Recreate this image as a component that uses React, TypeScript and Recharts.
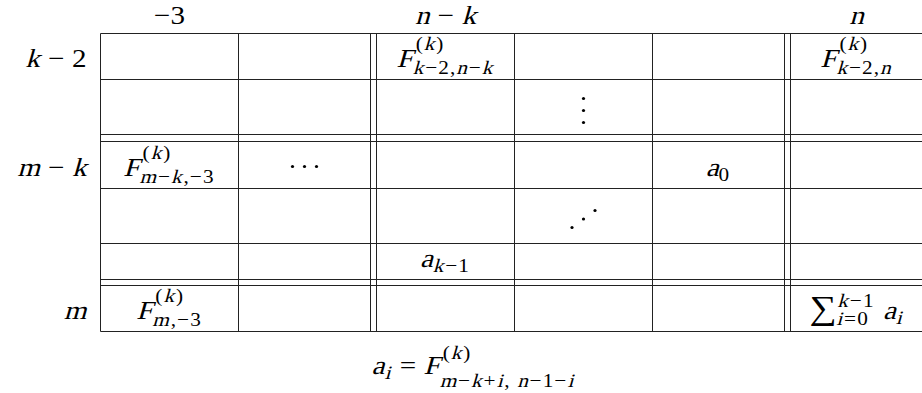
import React from 'react';
import { ScatterChart, Scatter, XAxis, YAxis, ReferenceLine } from 'recharts';

// Table grid: rule positions (in page pixels) and cell geometry
const verticalRules = [100, 238, 370, 376, 514, 652, 784, 790];
const horizontalRules = [33, 79, 134, 141, 188, 243, 279, 285, 331];
const tableRight = 921.5;

const colLeft = [100, 238, 376, 514, 652, 790];
const colRight = [238, 370, 514, 652, 784, 922];
const rowBottom = [79, 134, 188, 243, 279, 331];

// Header labels
const colHeads = ['−3', '', 'n − k', '', '', 'n'];
const rowHeads = ['k − 2', '', 'm − k', '', '', 'm'];

type Atom = { b: string; sup?: string; sub?: string; big?: boolean };

const cellEntries: { row: number; col: number; atoms: Atom[] }[] = [
  { row: 0, col: 2, atoms: [{ b: 'F', sup: '(k)', sub: 'k−2,n−k' }] },
  { row: 0, col: 5, atoms: [{ b: 'F', sup: '(k)', sub: 'k−2,n' }] },
  { row: 2, col: 0, atoms: [{ b: 'F', sup: '(k)', sub: 'm−k,−3' }] },
  { row: 2, col: 4, atoms: [{ b: 'a', sub: '0' }] },
  { row: 4, col: 2, atoms: [{ b: 'a', sub: 'k−1' }] },
  { row: 5, col: 0, atoms: [{ b: 'F', sup: '(k)', sub: 'm,−3' }] },
  {
    row: 5,
    col: 5,
    atoms: [{ b: '∑', sup: 'k−1', sub: 'i=0', big: true }, { b: ' a', sub: 'i' }],
  },
];

const dotEntries: { row: number; col: number; kind: 'v' | 'h' | 'd' }[] = [
  { row: 1, col: 3, kind: 'v' },
  { row: 2, col: 1, kind: 'h' },
  { row: 3, col: 3, kind: 'd' },
];

const footnote: Atom[] = [
  { b: 'a', sub: 'i' },
  { b: ' = ' },
  { b: 'F', sup: '(k)', sub: 'm−k+i, n−1−i' },
];
const footnoteAt = { x: 473, y: 373 };

// Only the upright Liberation Serif face is available, so italics are slanted by hand
const FONT = "'Liberation Serif'";
const BASE = 26;
const SCRIPT = 19;
const BIG = 34;
const SX = 1.12;
const SKEW = -14;
const INK = '#000';
const RULE = '#222';

const ctx = document.createElement('canvas').getContext('2d');

function tokens(s: string) {
  return s.match(/[A-Za-z]+|[^A-Za-z]+/g) ?? [];
}
const isItalic = (t: string) => /[A-Za-z]/.test(t);

function tokenWidth(t: string, size: number, ls: number) {
  let w = t.length * size * 0.5;
  if (ctx) {
    ctx.font = `${size}px ${FONT}`;
    w = ctx.measureText(t).width;
  }
  return (w + ls * t.length) * SX;
}

type Piece = { x: number; dy: number; t: string; size: number; ls: number; it: boolean };

function setRun(text: string, x: number, dy: number, size: number, out: Piece[]) {
  const ls = size < BASE ? size * 0.05 : 0;
  let cx = x;
  const toks = tokens(text);
  toks.forEach((t, i) => {
    const it = isItalic(t);
    out.push({ x: cx, dy, t, size, ls, it });
    cx += tokenWidth(t, size, ls);
    if (it && i < toks.length - 1) cx += size * 0.04;
  });
  return cx - x;
}

function layout(atoms: Atom[], footer: boolean) {
  let x = 0;
  const out: Piece[] = [];
  for (const a of atoms) {
    const bs = a.big ? BIG : BASE;
    const bw = setRun(a.b, x, 0, bs, out);
    const ic = a.b === 'F' ? 3 : 1;
    let ext = 0;
    if (a.sup) {
      const dy = a.big ? -12 : footer ? -15 : -17;
      const w = setRun(a.sup, x + bw + ic, dy, SCRIPT, out);
      ext = Math.max(ext, w + ic);
    }
    if (a.sub) {
      const dy = a.big ? 6 : a.sup ? (footer ? 13 : 7) : 5;
      const w = setRun(a.sub, x + bw, dy, SCRIPT, out);
      ext = Math.max(ext, w);
    }
    x += bw + ext + (ext ? 1 : 0);
  }
  return { out, width: x };
}

function MathLabel(props: any) {
  const { cx, cy, payload } = props;
  if (cx == null || cy == null) return null;
  const { out, width } = layout(payload.atoms, !!payload.footer);
  const x0 = payload.anchor === 'end' ? cx - width : cx - width / 2;
  return (
    <g>
      {out.map((p, i) => (
        <text
          key={i}
          transform={`translate(${x0 + p.x},${cy + p.dy}) scale(${SX},1)${p.it ? ` skewX(${SKEW})` : ''}`}
          fontSize={p.size}
          letterSpacing={p.ls}
          fill={INK}
          style={{ whiteSpace: 'pre', fontFamily: FONT }}
        >
          {p.t}
        </text>
      ))}
    </g>
  );
}

function Dots(props: any) {
  const { cx, cy, payload } = props;
  if (cx == null || cy == null) return null;
  const r = 1.6;
  let pts: [number, number][] = [];
  if (payload.kind === 'v') pts = [[0, -36], [0, -24], [0, -12]];
  if (payload.kind === 'h') pts = [[-12, -22], [0, -22], [12, -22]];
  if (payload.kind === 'd') pts = [[-11.5, -16], [0, -24.5], [11.5, -33]];
  return (
    <g>
      {pts.map(([dx, dy], i) => (
        <circle key={i} cx={cx + dx} cy={cy + dy} r={r} fill={INK} />
      ))}
    </g>
  );
}

const colCenter = (c: number) => (colLeft[c] + colRight[c]) / 2;
const baseline = (r: number) => rowBottom[r] - 13;

const headerPoints = colHeads
  .map((t, c) => ({ x: colCenter(c), y: 23, atoms: [{ b: t }], anchor: 'middle' }))
  .filter((p) => p.atoms[0].b);

const rowPoints = rowHeads
  .map((t, r) => ({ x: 86, y: baseline(r), atoms: [{ b: t }], anchor: 'end' }))
  .filter((p) => p.atoms[0].b);

const cellPoints = cellEntries.map((e) => ({
  x: colCenter(e.col),
  y: baseline(e.row),
  atoms: e.atoms,
  anchor: 'middle',
}));

const footPoints = [
  { x: footnoteAt.x, y: footnoteAt.y, atoms: footnote, anchor: 'middle', footer: true },
];

const dotPoints = dotEntries.map((d) => ({
  x: colCenter(d.col),
  y: rowBottom[d.row],
  kind: d.kind,
}));

export default function App() {
  const top = horizontalRules[0];
  const bottom = horizontalRules[horizontalRules.length - 1];
  const left = verticalRules[0];
  return (
    <div style={{ position: 'absolute', left: 0, top: 0, background: '#fff' }}>
      <ScatterChart width={922} height={393} margin={{ top: 0, right: 0, bottom: 0, left: 0 }}>
        <XAxis type="number" dataKey="x" domain={[-0.5, 921.5]} hide />
        <YAxis type="number" dataKey="y" domain={[-0.5, 392.5]} reversed hide />
        {horizontalRules.map((y) => (
          <ReferenceLine
            key={`h${y}`}
            segment={[
              { x: left, y },
              { x: tableRight, y },
            ]}
            stroke={RULE}
            strokeWidth={1}
            ifOverflow="visible"
          />
        ))}
        {verticalRules.map((x) => (
          <ReferenceLine
            key={`v${x}`}
            segment={[
              { x, y: top },
              { x, y: bottom },
            ]}
            stroke={RULE}
            strokeWidth={1}
            ifOverflow="visible"
          />
        ))}
        <Scatter data={headerPoints} shape={MathLabel} isAnimationActive={false} />
        <Scatter data={rowPoints} shape={MathLabel} isAnimationActive={false} />
        <Scatter data={cellPoints} shape={MathLabel} isAnimationActive={false} />
        <Scatter data={footPoints} shape={MathLabel} isAnimationActive={false} />
        <Scatter data={dotPoints} shape={Dots} isAnimationActive={false} />
      </ScatterChart>
    </div>
  );
}
